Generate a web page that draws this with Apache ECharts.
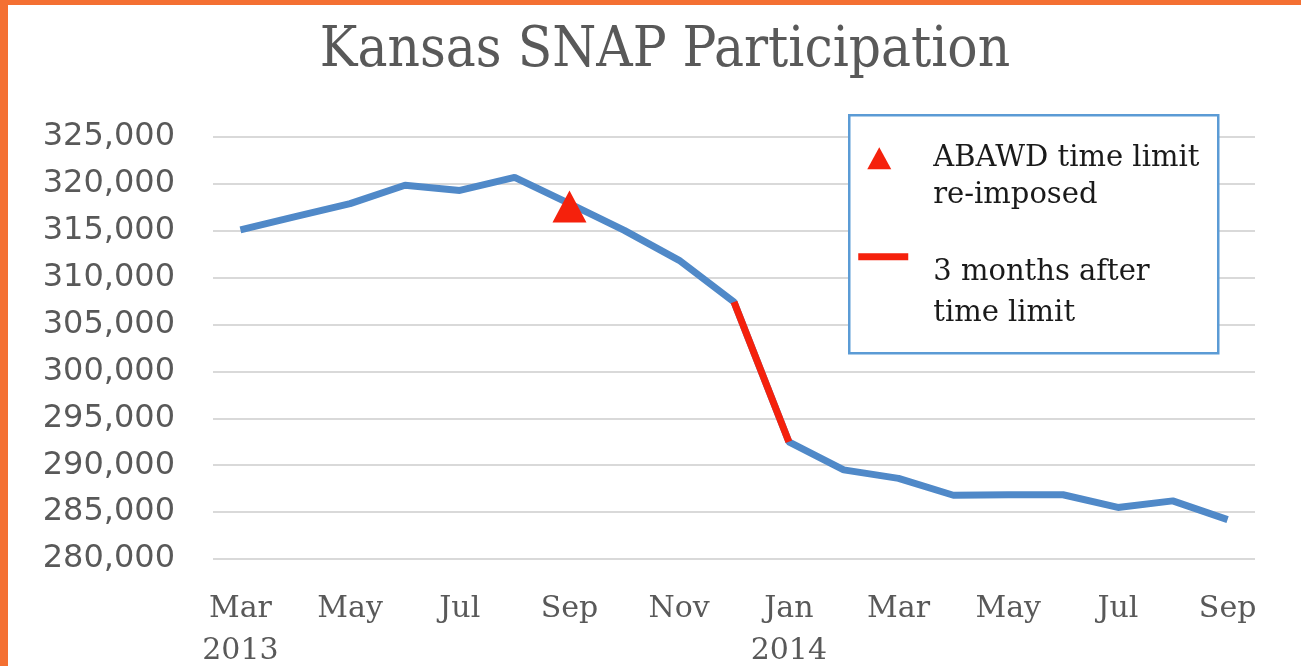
<!DOCTYPE html>
<html>
<head>
<meta charset="utf-8">
<script src="https://cdn.jsdelivr.net/npm/echarts@6/dist/echarts.min.js"></script>
<style>
  html, body { margin: 0; padding: 0; background: #fff; }
  #main { width: 1301px; height: 666px; }
</style>
</head>
<body>
<div id="main"></div>
<script>
// monthly categories, Mar 2013 .. Sep 2014
const months = ['Mar 2013', 'Apr 2013', 'May 2013', 'Jun 2013', 'Jul 2013', 'Aug 2013', 'Sep 2013',
  'Oct 2013', 'Nov 2013', 'Dec 2013', 'Jan 2014', 'Feb 2014', 'Mar 2014', 'Apr 2014', 'May 2014',
  'Jun 2014', 'Jul 2014', 'Aug 2014', 'Sep 2014']
// participants per month
const participation = [315100, 316500, 317900, 319850, 319300, 320700, 317900, 315050, 311850,
  307400, 292500, 289500, 288600, 286800, 286850, 286850, 285500, 286200, 284200]
// 3 months after the time limit (Dec 2013 -> Jan 2014)
const afterLimit = [null, null, null, null, null, null, null, null, null,
  307400, 292500, null, null, null, null, null, null, null, null]
// time limit re-imposed
const limitPoint = [['Sep 2013', 317900]]
// axis labels
const tickLabels = {
  'Mar 2013': 'Mar\n2013', 'May 2013': 'May', 'Jul 2013': 'Jul', 'Sep 2013': 'Sep', 'Nov 2013': 'Nov',
  'Jan 2014': 'Jan\n2014', 'Mar 2014': 'Mar', 'May 2014': 'May', 'Jul 2014': 'Jul', 'Sep 2014': 'Sep'
}

const blue = '#5089c8'
const red = '#f5210c'
const serifNarrow = "'DejaVu Serif Condensed', 'DejaVu Serif', serif"
const serif = "'DejaVu Serif', serif"

const chart = echarts.init(document.getElementById('main'))
const option = {
  backgroundColor: '#fff',
  animation: false,
  title: {
    text: 'Kansas SNAP Participation',
    left: 660,
    top: 18,
    textAlign: 'center',
    textStyle: { fontFamily: serifNarrow, fontSize: 56, fontWeight: 'normal', color: '#595959' }
  },
  grid: { left: 213, right: 46, top: 137, bottom: 107, outerBoundsMode: 'none' },
  xAxis: {
    type: 'category',
    data: months,
    boundaryGap: true,
    axisLine: { show: false },
    axisTick: { show: false },
    axisLabel: {
      interval: 1,
      margin: 29,
      fontFamily: serif,
      fontSize: 30,
      lineHeight: 42,
      color: '#595959',
      formatter: v => tickLabels[v] || ''
    }
  },
  yAxis: {
    type: 'value',
    min: 280000,
    max: 325000,
    interval: 5000,
    axisLabel: {
      margin: 38,
      fontFamily: "'DejaVu Sans', sans-serif",
      fontSize: 32,
      color: '#595959',
      formatter: v => v.toLocaleString('en-US')
    },
    splitLine: { lineStyle: { color: '#d9d9d9', width: 2 } }
  },
  series: [
    {
      name: 'Participation',
      type: 'line',
      data: participation,
      symbol: 'none',
      lineStyle: { color: blue, width: 7 },
      z: 2
    },
    {
      name: '3 months after time limit',
      type: 'line',
      data: afterLimit,
      symbol: 'none',
      connectNulls: false,
      lineStyle: { color: red, width: 7 },
      z: 3
    },
    {
      name: 'ABAWD time limit re-imposed',
      type: 'scatter',
      data: limitPoint,
      symbol: 'triangle',
      symbolSize: [34, 32],
      symbolOffset: [0, 3],
      itemStyle: { color: red, opacity: 1 },
      z: 4
    }
  ],
  graphic: [
    // orange frame
    { type: 'rect', z: 100, shape: { x: 0, y: 0, width: 8, height: 666 }, style: { fill: '#f47032' } },
    { type: 'rect', z: 100, shape: { x: 0, y: 0, width: 1301, height: 5 }, style: { fill: '#f47032' } },
    // legend box
    {
      type: 'group',
      left: 848,
      top: 114,
      z: 100,
      children: [
        { type: 'rect', z: 100, shape: { x: 0, y: 0, width: 369, height: 238 }, style: { fill: '#fff', stroke: '#5b9bd5', lineWidth: 2.5 } },
        { type: 'polygon', z: 101, shape: { points: [[30, 32], [18, 54], [42, 54]] }, style: { fill: red } },
        { type: 'text', z: 101, x: 84, y: 25, style: { text: 'ABAWD time limit\nre-imposed', fontFamily: serif, fontSize: 29, lineHeight: 37, fill: '#1a1a1a', verticalAlign: 'top' } },
        { type: 'rect', z: 101, shape: { x: 9, y: 138, width: 50, height: 7 }, style: { fill: red } },
        { type: 'text', z: 101, x: 84, y: 137, style: { text: '3 months after\ntime limit', fontFamily: serif, fontSize: 29, lineHeight: 41, fill: '#1a1a1a', verticalAlign: 'top' } }
      ]
    }
  ]
}
chart.setOption(option)
</script>
</body>
</html>
